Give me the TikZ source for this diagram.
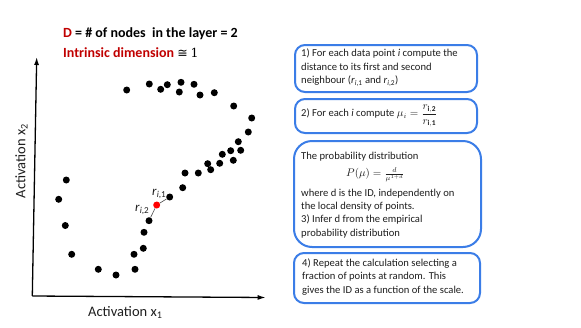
\documentclass[tikz,border=0pt]{standalone}
\usepackage{fontspec}
\setmainfont{Carlito}
\newfontfamily\symfam{DejaVu Sans}
\newfontfamily\onefam{DejaVu Serif}
\usetikzlibrary{arrows.meta}
\definecolor{boxblue}{RGB}{59,125,231}
\definecolor{titlered}{RGB}{192,0,0}
\definecolor{txt}{RGB}{30,30,30}
\newcommand\rsub[1]{\textit{r}\textsubscript{\textit{i},#1}}
\begin{document}
\begin{tikzpicture}[x=1pt,y=-1pt,
  dot/.style={circle,fill=black,inner sep=0pt,minimum size=7pt},
  reddot/.style={circle,fill=red,inner sep=0pt,minimum size=7pt},
  stepbox/.style={draw=boxblue,line width=2pt,rounded corners=#1,fill=white,inner sep=0pt},
  stepbox/.default=10pt,
  boxtext/.style={anchor=west,inner sep=0pt,align=left,text=txt,
    font=\fontsize{10.6}{13.4}\selectfont},
  axisline/.style={line width=1.3pt,-{Latex[length=8pt,width=5pt]}},
  nbline/.style={draw=txt!80,line width=0.6pt},
  rlab/.style={anchor=base west,inner sep=0pt,text=txt,font=\fontsize{13}{15}\selectfont},
  axlab/.style={inner sep=0pt,text=txt,font=\fontsize{14.5}{16}\selectfont},
  title/.style={anchor=base west,inner sep=0pt,text height=9.5pt,text depth=2pt,
    font=\fontsize{14}{16}\selectfont\bfseries}]
\useasboundingbox (0,0) rectangle (581,327);

% title
\node[title] (t1) at (63,37.5) {\textcolor{titlered}{D} = \# of nodes\ \ in the layer = 2};
\node[title] (t2) at (63,57.5) {\textcolor{titlered}{Intrinsic dimension} {\mdseries\fontsize{12.5}{15}\selectfont{\symfam ≅} {\onefam 1}}};

% axes
\coordinate (o) at (32.3,296);
\coordinate (ytip) at (36.7,57);
\coordinate (xtip) at (265.7,297.5);
\draw[axisline] (o) -- (ytip);
\draw[axisline] (o) -- (xtip);
\node[axlab,anchor=base west] (xl) at (88,316.5) {Activation x\textsubscript{1}};
\node[axlab,rotate=90] (yl) at (21.5,161) {Activation x\textsubscript{2}};

% data points
\foreach \px/\py [count=\i] in {
  126.7/90, 149.3/84, 160.7/89.3, 167.3/84.7, 181/82.3, 179.3/92, 194/84.3,
  200/95, 214.3/92.7, 233.7/106, 251.7/118, 248.3/132, 238.3/141.7,
  230.7/150.7, 240.7/150.3, 222.3/154.3, 233.3/160.3, 219.7/163.3,
  207.7/163.7, 210.7/169.7, 185/173, 198.3/173, 182.7/187.7,
  144/232.3, 143.3/248.3, 134/254.3, 135/269.3, 116/275, 98.3/269.3,
  71.7/254.3, 65.3/225.5, 58.7/199.3, 66.3/180}
  \node[dot] (p\i) at (\px,\py) {};
\node[dot] (n1) at (169.7,197) {};
\node[dot] (n2) at (149,220.7) {};
\node[reddot] (r) at (156.7,205) {};
\draw[nbline] (r) -- (n1);
\draw[nbline] (r) -- (n2);
\node[rlab] (l1) at (152,195) {\rsub{1}};
\node[rlab] (l2) at (135,211.7) {\rsub{2}};

% boxes
\node[stepbox, minimum width=182, minimum height=47] (b1) at (386,68.5) {};
\node[boxtext] (b1t) at ([xshift=7pt,yshift=1pt]b1.west)
  {1) For each data point \textit{i} compute the\\
   distance to its first and second\\
   neighbour (\rsub{1} and \rsub{2})};
\node[stepbox, minimum width=182, minimum height=34] (b2) at (386,116) {};
\node[boxtext] (b2t) at ([xshift=7pt]b2.west)
  {2) For each \textit{i} compute $\mu_i = \displaystyle\frac{r_{\mathbf{i,2}}}{r_{\mathbf{i,1}}}$};
\node[stepbox=18pt, minimum width=187, minimum height=106] (b3) at (387.5,194) {};
\node[boxtext] (b3t) at ([xshift=8pt,yshift=-1pt]b3.west)
  {The probability distribution\\[4pt]
   \hspace*{45pt}$P(\mu) = \frac{d}{\mu^{1+d}}$\\[6pt]
   where d is the ID, independently on\\
   the local density of points.\\
   3) Infer d from the empirical\\
   probability distribution};
\node[stepbox, minimum width=186, minimum height=50] (b4) at (387,278) {};
\node[boxtext] (b4t) at ([xshift=9pt,yshift=1pt]b4.west)
  {4) Repeat the calculation selecting a\\
   fraction of points at random. This\\
   gives the ID as a function of the scale.};
\end{tikzpicture}
\end{document}
